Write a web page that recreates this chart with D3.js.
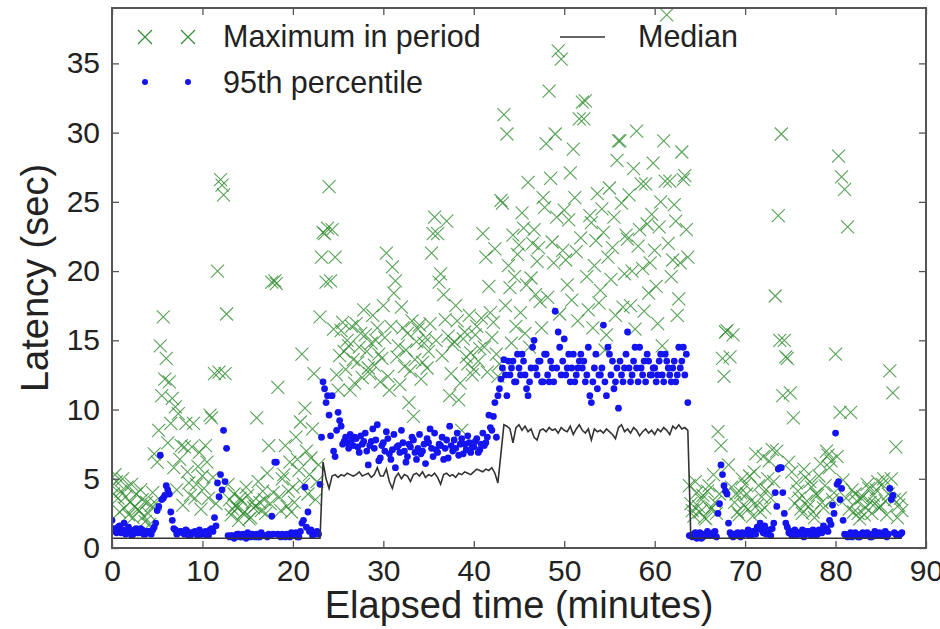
<!DOCTYPE html>
<html>
<head>
<meta charset="utf-8">
<script src="https://cdn.jsdelivr.net/npm/d3@7"></script>
<style>
  body { margin: 0; background: #fff; }
  text { font-family: "Liberation Sans", Arial, Helvetica, sans-serif; fill: #222; }
</style>
</head>
<body>
<div id="chart-area"></div>
<script>
// samples every 20 s; the "B" arrays are the samples 10 s later (half a step)
var sampleMinutes = 1 / 3;

// max latency in each period (sec), 3 samples per minute, one line = 10 minutes
var maxInPeriod = [
  4.5, 5.3, 3.6,  4.1, 2.9, 4.4,  3.3, 2.2, 3.9,  2.7, 3.5, 1.9,  2.5, 3.1, 6.8,  6.2, 14.6, 16.7,  13.7, 12.0, 10.8,  10.2, 9.7, 7.4,  7.3, 5.5, 3.8,  9.0, 4.6, 6.9,
  5.2, 7.4, 3.6,  9.4, 12.6, 20.0,  26.6, 25.5, 16.9,  3.5, 2.8, 3.1,  2.0, 3.4, 2.6,  3.8, 2.2, 2.9,  9.4, 3.3, 4.1,  2.5, 7.4, 19.2,  19.3, 11.6, 2.7,  5.3, 3.0, 6.2,
  4.4, 8.0, 5.6,  14.0, 10.1, 3.9,  6.5, 12.6, 4.8,  16.7, 22.8, 19.2,  26.1, 23.0, 21.0,  11.4, 15.7, 14.2,  15.0, 11.4, 13.6,  16.2, 14.5, 12.3,  15.4, 13.0, 14.8,  13.2, 15.9, 12.0,
  17.5, 21.3, 11.4,  20.3, 19.3, 14.6,  17.4, 13.1, 15.5,  12.8, 9.5, 14.9,  16.1, 13.4, 15.2,  14.2, 21.3, 23.9,  22.7, 19.8, 18.3,  23.6, 11.0, 14.7,  17.5, 10.7, 8.5,  15.6, 13.3, 14.1,
  12.9, 16.0, 14.4,  22.7, 21.0, 18.9,  15.2, 21.6, 12.4,  25.1, 31.3, 29.9,  18.8, 22.6, 16.0,  21.9, 24.2, 15.5,  26.4, 19.5, 23.0,  20.7, 17.8, 25.3,  29.2, 33.0, 22.1,  29.9, 35.9, 35.3,
  24.4, 19.0, 27.1,  28.8, 21.4, 31.0,  32.2, 32.3, 17.2,  23.5, 20.4, 25.6,  18.6, 22.8, 15.4,  26.0, 21.7, 16.8,  29.4, 24.9, 19.8,  22.3, 17.5, 27.4,  30.1, 23.0, 20.2,  26.3, 18.4, 24.1,
  21.5, 16.2, 25.0,  29.4, 38.5, 26.5,  20.8, 23.6, 18.0,  28.6, 26.9, 21.0,  3.2, 2.3, 4.0,  2.6, 3.8, 2.1,  4.5, 2.9, 3.3,  8.4, 7.4, 12.4,  15.7, 13.8, 15.4,  3.9, 2.4, 5.0,
  4.6, 2.8, 3.4,  5.5, 3.1, 2.6,  6.6, 4.2, 6.3,  7.1, 18.2, 24.0,  29.9, 15.0, 13.7,  11.2, 9.4, 4.7,  3.6, 2.5, 5.1,  3.0, 4.4, 2.2,  3.8, 6.1, 2.9,  7.0, 5.8, 3.5,
  14.0, 28.3, 26.8,  25.9, 23.2, 9.8,  2.6, 3.4, 2.1,  3.7, 2.9, 4.3,  2.5, 3.2, 4.8,  3.0, 5.0, 2.4,  12.8, 11.2, 7.3,  3.1, 2.7
];
var maxInPeriodB = [
  3.9, 4.8, 2.6,  5.0, 3.7, 2.4,  4.6, 3.0, 2.8,  4.2, 2.3, 3.3,  1.7, 4.0, 3.2,  8.5, 11.0, 12.2,  7.6, 9.0, 5.8,  4.2, 6.4, 3.1,  9.0, 4.7, 7.3,  3.6, 5.9, 2.8,
  4.3, 6.2, 9.6,  5.1, 3.2, 12.7,  26.2, 12.6, 4.6,  2.4, 3.9, 2.9,  3.6, 2.5, 4.4,  2.1, 3.3, 3.0,  4.8, 2.7, 3.5,  5.4, 3.2, 4.0,  19.1, 3.7, 5.0,  7.4, 4.1, 2.6,
  3.3, 6.4, 9.1,  4.6, 7.0, 5.3,  8.6, 3.5, 6.0,  21.0, 22.7, 23.1,  19.3, 15.8, 12.5,  13.9, 16.3, 12.9,  14.6, 16.0, 11.9,  13.4, 15.5, 17.2,  14.2, 12.6, 16.8,  15.0, 14.0, 13.7,
  15.2, 12.4, 16.0,  18.4, 13.8, 11.8,  15.9, 14.3, 10.5,  16.4, 13.6, 15.8,  12.2, 14.8, 13.0,  16.2, 22.7, 15.0,  19.2, 13.9, 16.5,  15.3, 12.6, 14.9,  16.4, 11.9, 15.1,  13.8, 16.8, 12.5,
  15.4, 13.5, 16.6,  14.5, 12.7, 17.0,  16.3, 14.0, 13.3,  24.9, 17.5, 20.4,  14.8, 19.6, 21.2,  17.0, 23.1, 19.0,  14.5, 22.0, 18.3,  21.7, 15.9, 24.6,  18.1, 26.7, 20.6,  23.9, 16.9, 21.5,
  20.8, 23.7, 17.9,  25.3, 16.4, 22.4,  31.0, 19.6, 24.0,  15.9, 22.2, 17.7,  24.5, 14.3, 21.0,  19.4, 23.9, 28.0,  29.4, 17.4, 22.6,  25.5, 20.0, 15.8,  21.8, 26.3, 17.1,  23.4, 20.6, 27.8,
  18.9, 23.2, 14.6,  26.5, 22.0, 19.6,  24.8, 16.8, 20.6,  26.6, 23.0, 4.5,  2.7, 4.8, 3.0,  3.5, 2.2, 4.1,  2.8, 5.3, 2.5,  3.9, 13.7, 15.6,  6.0, 4.4, 3.3,  2.6, 4.0, 3.1,
  3.9, 5.2, 2.3,  6.8, 4.5, 3.7,  2.9, 5.0, 3.6,  4.8, 7.0, 15.0,  11.0, 13.8, 6.2,  5.5, 3.2, 4.1,  2.8, 5.7, 3.4,  4.8, 2.6, 3.9,  5.2, 3.3, 4.5,  6.7, 6.3, 4.0,
  6.6, 9.8, 4.9,  3.6, 2.8, 4.2,  3.9, 2.5, 3.6,  2.4, 4.6, 3.3,  3.8, 4.2, 2.9,  4.6, 3.4, 3.9,  5.0, 3.5, 2.2,  3.6
];

// 95th percentile latency (sec)
var pct95 = [
  2.0, 1.2, 1.5,  1.1, 1.8, 1.3,  1.2, 1.0, 1.4,  1.1, 1.3, 1.0,  1.2, 1.0, 1.5,  2.7, 6.7, 3.6,  4.5, 3.9, 2.0,  1.3, 1.1, 1.2,  1.0, 1.2, 0.9,  1.1, 1.0, 1.3,
  1.0, 1.2, 0.9,  1.4, 2.2, 4.7,  5.3, 8.5, 7.2,  0.8, 0.9, 0.8,  1.0, 0.8, 0.9,  1.1, 0.8, 0.9,  1.0, 0.8, 0.9,  0.9, 1.0, 2.3,  6.2, 1.0, 0.8,  0.9, 1.0, 0.8,
  0.9, 1.1, 0.8,  1.8, 4.4, 2.6,  1.3, 1.0, 1.2,  4.6, 12.0, 10.5,  9.6, 11.0, 6.6,  9.8, 8.8, 7.7,  7.6, 8.2, 7.4,  7.9, 6.9, 7.5,  8.3, 6.0, 7.7,  7.2, 8.9, 6.5,
  7.6, 8.4, 6.8,  7.1, 5.8, 7.4,  8.5, 7.0, 6.6,  7.3, 7.8, 6.4,  8.2, 7.0, 6.1,  7.6, 7.2, 8.3,  6.9, 7.4, 6.4,  7.8, 8.8, 7.0,  7.2, 6.7, 7.9,  7.5, 8.1, 6.9,
  7.3, 7.9, 7.1,  8.3, 7.6, 9.6,  8.5, 10.5, 11.0,  12.2, 13.6, 11.0,  12.5, 13.5, 12.0,  13.0, 14.0, 12.5,  11.0, 13.0, 15.0,  12.5, 13.5, 12.0,  14.0, 12.0, 13.0,  17.1, 15.6, 12.5,
  15.1, 13.0, 12.0,  14.0, 12.5, 13.5,  13.0, 12.0, 14.5,  10.5, 13.0, 11.5,  12.5, 16.1, 11.0,  14.0, 13.5, 12.0,  10.1, 12.5, 13.0,  15.6, 12.0, 13.5,  13.0, 14.5, 12.5,  12.0, 13.5, 12.5,
  13.0, 12.5, 14.0,  12.0, 13.5, 12.5,  13.0, 12.0, 14.5,  13.5, 12.5, 10.5,  0.9, 1.0, 0.7,  1.1, 0.8, 0.9,  1.0, 0.9, 1.2,  2.5, 6.0, 4.5,  3.9, 1.1, 0.8,  0.9, 1.0, 1.1,
  1.0, 1.3, 0.9,  1.2, 1.5, 1.8,  1.1, 1.0, 1.3,  1.4, 4.0, 5.7,  5.8, 2.5, 1.5,  1.2, 1.0, 0.9,  1.1, 1.3, 1.0,  1.2, 0.9, 1.1,  1.0, 1.2, 1.6,  1.4, 2.0, 3.1,
  8.3, 4.8, 4.3,  1.0, 0.8, 1.1,  0.9, 1.0, 0.8,  1.1, 0.9, 1.0,  0.8, 1.2, 0.9,  1.0, 1.1, 0.8,  4.3, 3.8, 1.0,  0.9, 1.1
];
var pct95B = [
  1.4, 1.1, 1.6,  1.3, 1.0, 1.5,  0.9, 1.3, 1.1,  1.4, 1.0, 1.2,  1.1, 1.3, 1.8,  3.0, 3.5, 3.8,  4.2, 2.6, 1.4,  1.0, 1.2, 1.1,  1.3, 0.9, 1.1,  1.2, 0.9, 1.0,
  1.1, 0.9, 1.3,  1.2, 1.6, 3.7,  4.2, 4.8, 0.9,  0.9, 0.7, 1.0,  0.8, 1.0, 0.7,  0.9, 1.0, 0.8,  0.8, 1.1, 0.9,  0.8, 0.9, 1.0,  6.2, 0.9, 1.0,  0.8, 0.9, 1.1,
  1.0, 0.8, 1.2,  2.0, 1.5, 1.2,  0.9, 1.1, 1.0,  8.0, 11.5, 11.0,  8.1, 7.0, 8.5,  9.2, 7.5, 8.0,  7.2, 7.8, 8.0,  7.3, 8.1, 7.7,  7.0, 7.4, 8.6,  7.8, 6.3, 7.4,
  7.0, 7.9, 6.4,  8.2, 7.3, 6.9,  7.6, 6.2, 7.5,  8.0, 6.9, 7.2,  6.8, 7.5, 7.9,  8.6, 6.6, 7.1,  7.5, 8.0, 7.2,  6.5, 7.4, 7.8,  8.3, 7.5, 6.8,  7.1, 7.6, 7.3,
  7.7, 6.9, 7.5,  7.4, 8.0, 8.7,  9.5, 8.0, 11.5,  13.0, 12.5, 13.5,  13.0, 12.0, 14.0,  12.5, 13.5, 11.5,  12.0, 14.5, 13.0,  13.5, 12.0, 14.0,  12.5, 13.5, 12.0,  13.0, 14.5, 13.5,
  12.5, 14.0, 13.0,  12.0, 13.0, 14.0,  13.5, 12.5, 11.0,  12.0, 14.0, 12.5,  13.0, 12.0, 14.5,  12.5, 11.5, 13.0,  13.5, 12.0, 14.0,  13.0, 12.5, 14.5,  12.0, 13.0, 13.5,  14.0, 12.5, 13.0,
  12.0, 13.5, 12.5,  14.0, 13.0, 12.0,  13.5, 12.5, 13.0,  14.5, 14.0, 0.9,  0.8, 1.1, 0.9,  0.7, 1.0, 1.2,  0.9, 1.1, 0.8,  3.2, 5.3, 4.1,  1.8, 0.9, 1.0,  1.1, 0.8, 1.0,
  1.1, 0.9, 1.2,  1.0, 1.4, 1.3,  1.6, 1.2, 0.9,  1.8, 3.0, 5.8,  4.0, 1.8, 1.1,  0.9, 1.3, 1.1,  1.0, 0.8, 1.2,  1.0, 1.3, 0.9,  1.3, 1.1, 1.4,  1.2, 1.7, 2.5,
  4.6, 3.5, 2.0,  0.9, 1.0, 0.8,  1.1, 0.8, 1.0,  0.9, 1.1, 0.8,  1.0, 0.9, 1.1,  0.9, 1.2, 1.0,  3.5, 1.1, 0.9,  1.0
];

// median latency (sec)
var median = [
  0.7, 0.7, 0.7,  0.7, 0.7, 0.7,  0.7, 0.7, 0.7,  0.7, 0.7, 0.7,  0.7, 0.7, 0.7,  0.7, 0.7, 0.7,  0.7, 0.7, 0.7,  0.7, 0.7, 0.7,  0.7, 0.7, 0.7,  0.7, 0.7, 0.7,
  0.7, 0.7, 0.7,  0.7, 0.7, 0.7,  0.7, 0.7, 0.7,  0.7, 0.7, 0.7,  0.7, 0.7, 0.7,  0.7, 0.7, 0.7,  0.7, 0.7, 0.7,  0.7, 0.7, 0.7,  0.7, 0.7, 0.7,  0.7, 0.7, 0.7,
  0.7, 0.7, 0.7,  0.7, 0.7, 0.7,  0.7, 0.7, 0.7,  0.7, 6.2, 5.0,  4.3, 5.2, 5.3,  5.1, 5.3, 5.2,  5.4, 5.3, 5.2,  5.3, 5.5, 5.2,  5.3, 5.4, 5.1,  5.3, 5.8, 5.2,
  5.2, 5.7, 4.8,  4.3, 5.1, 5.4,  5.0, 5.3, 5.2,  4.8, 5.3, 5.4,  5.2, 5.5, 5.1,  5.3, 5.2, 5.4,  5.1, 4.6, 5.3,  5.4, 5.2, 5.3,  5.1, 5.4, 5.3,  5.5, 5.4, 5.3,
  5.5, 5.7, 5.6,  5.5, 5.7, 5.6,  5.8, 5.4, 4.7,  6.8, 8.9, 8.8,  8.6, 7.6, 8.7,  8.9, 8.5, 8.8,  8.4, 8.6, 8.0,  7.8, 8.5, 8.6,  8.4, 8.7, 8.5,  8.6, 8.3, 8.7,
  8.5, 8.4, 8.8,  8.2, 8.6, 8.9,  8.5, 8.3, 8.6,  7.8, 8.6, 8.4,  8.5, 8.3, 8.6,  8.4, 8.2, 7.9,  8.7, 8.9, 8.4,  8.6, 8.3, 8.7,  8.5, 8.1, 8.4,  8.6, 8.3, 8.5,
  8.2, 8.6, 8.4,  8.7, 8.5, 8.2,  8.8, 8.6, 8.9,  8.6, 8.7, 8.5,  0.7, 0.7, 0.7,  0.7, 0.7, 0.7,  0.7, 0.7, 0.7,  0.7, 0.7, 0.7,  0.7, 0.7, 0.7,  0.7, 0.7, 0.7,
  0.7, 0.7, 0.7,  0.7, 0.7, 0.7,  0.7, 0.7, 0.7,  0.7, 0.7, 0.7,  0.7, 0.7, 0.7,  0.7, 0.7, 0.7,  0.7, 0.7, 0.7,  0.7, 0.7, 0.7,  0.7, 0.7, 0.7,  0.7, 0.7, 0.7,
  0.7, 0.7, 0.7,  0.7, 0.7, 0.7,  0.7, 0.7, 0.7,  0.7, 0.7, 0.7,  0.7, 0.7, 0.7,  0.7, 0.7, 0.7,  0.7, 0.7, 0.7,  0.7, 0.7
];

var xTicks = [0, 10, 20, 30, 40, 50, 60, 70, 80, 90];
var yTicks = [0, 5, 10, 15, 20, 25, 30, 35];

var legendLabels = ["Maximum in period", "95th percentile", "Median"];

var margin = { left: 112, right: 14, top: 8, bottom: 81 };
var width = 940 - margin.left - margin.right;
var height = 629 - margin.top - margin.bottom;

var green = "#2e8b2e";
var blue = "#1414f0";

var svg = d3.select("#chart-area").append("svg")
    .attr("width", width + margin.left + margin.right)
    .attr("height", height + margin.top + margin.bottom);

var g = svg.append("g")
    .attr("transform", "translate(" + margin.left + "," + margin.top + ")");

var x = d3.scaleLinear().domain([0, 90]).range([0, width]);
var y = d3.scaleLinear().domain([0, 39]).range([height, 0]);

// turn the arrays into points, time comes from the sample index (offset in steps)
function toPoints(arr, offset) {
    return arr.map((v, i) => ({ t: (i + offset) * sampleMinutes, v: v }));
}
var maxPts = toPoints(maxInPeriod, 0).concat(toPoints(maxInPeriodB, 0.5));
var p95Pts = toPoints(pct95, 0).concat(toPoints(pct95B, 0.5));
var medPts = toPoints(median, 0);

svg.append("clipPath").attr("id", "plot-clip")
  .append("rect")
    .attr("x", 0).attr("y", 0)
    .attr("width", width).attr("height", height);

var plot = g.append("g").attr("clip-path", "url(#plot-clip)");

var cross = "M-6.5,-6.5L6.5,6.5M-6.5,6.5L6.5,-6.5";

// maximum: green crosses
plot.selectAll(".max").data(maxPts).enter().append("path")
    .attr("class", "max")
    .attr("d", cross)
    .attr("transform", d => "translate(" + x(d.t) + "," + y(d.v) + ")")
    .attr("fill", "none")
    .attr("stroke", green)
    .attr("stroke-opacity", 0.8)
    .attr("stroke-width", 1.1);

// 95th percentile: blue dots
plot.selectAll(".p95").data(p95Pts).enter().append("circle")
    .attr("class", "p95")
    .attr("cx", d => x(d.t))
    .attr("cy", d => y(d.v))
    .attr("r", 3.4)
    .attr("fill", blue);

// median line
var line = d3.line().x(d => x(d.t)).y(d => y(d.v));
plot.append("path")
    .datum(medPts)
    .attr("d", line)
    .attr("fill", "none")
    .attr("stroke", "#333")
    .attr("stroke-width", 1.6);

// axes, ticks point inward on all four sides
var xAxis = d3.axisBottom(x).tickValues(xTicks).tickSizeInner(-7).tickSizeOuter(0).tickPadding(12);
var yAxis = d3.axisLeft(y).tickValues(yTicks).tickSizeInner(-7).tickSizeOuter(0).tickPadding(12);

g.append("g").attr("transform", "translate(0," + height + ")").call(xAxis);
g.append("g").call(yAxis);
g.append("g").call(d3.axisTop(x).tickValues(xTicks).tickSizeInner(-7).tickSizeOuter(0).tickFormat(""));
g.append("g").attr("transform", "translate(" + width + ",0)")
    .call(d3.axisRight(y).tickValues(yTicks).tickSizeInner(-7).tickSizeOuter(0).tickFormat(""));

g.selectAll(".domain").remove();
g.selectAll(".tick line").attr("stroke", "#555").attr("stroke-width", 1.3);
g.selectAll(".tick text")
    .attr("font-size", "30px")
    .attr("font-family", "'Liberation Sans', Arial, sans-serif")
    .attr("fill", "#222");

// frame
g.append("rect")
    .attr("width", width).attr("height", height)
    .attr("fill", "none")
    .attr("stroke", "#555")
    .attr("stroke-width", 2);

// axis titles
svg.append("text")
    .attr("x", margin.left + width / 2)
    .attr("y", 618)
    .attr("text-anchor", "middle")
    .attr("font-size", "38px")
    .text("Elapsed time (minutes)");

svg.append("text")
    .attr("transform", "translate(48," + (margin.top + height / 2) + ") rotate(-90)")
    .attr("text-anchor", "middle")
    .attr("font-size", "38px")
    .text("Latency (sec)");

// legend
var leg = svg.append("g");
[145, 188].forEach(cx => {
    leg.append("path").attr("d", "M-7,-7L7,7M-7,7L7,-7")
        .attr("transform", "translate(" + cx + ",37)")
        .attr("fill", "none").attr("stroke", green).attr("stroke-width", 1.1);
    leg.append("circle").attr("cx", cx).attr("cy", 82).attr("r", 3).attr("fill", blue);
});
leg.append("text").attr("x", 223).attr("y", 47).attr("font-size", "30.5px").text(legendLabels[0]);
leg.append("text").attr("x", 223).attr("y", 93).attr("font-size", "30.5px").text(legendLabels[1]);
leg.append("line").attr("x1", 560).attr("x2", 605).attr("y1", 37).attr("y2", 37)
    .attr("stroke", "#333").attr("stroke-width", 1.6);
leg.append("text").attr("x", 638).attr("y", 47).attr("font-size", "30.5px").text(legendLabels[2]);
</script>
</body>
</html>
